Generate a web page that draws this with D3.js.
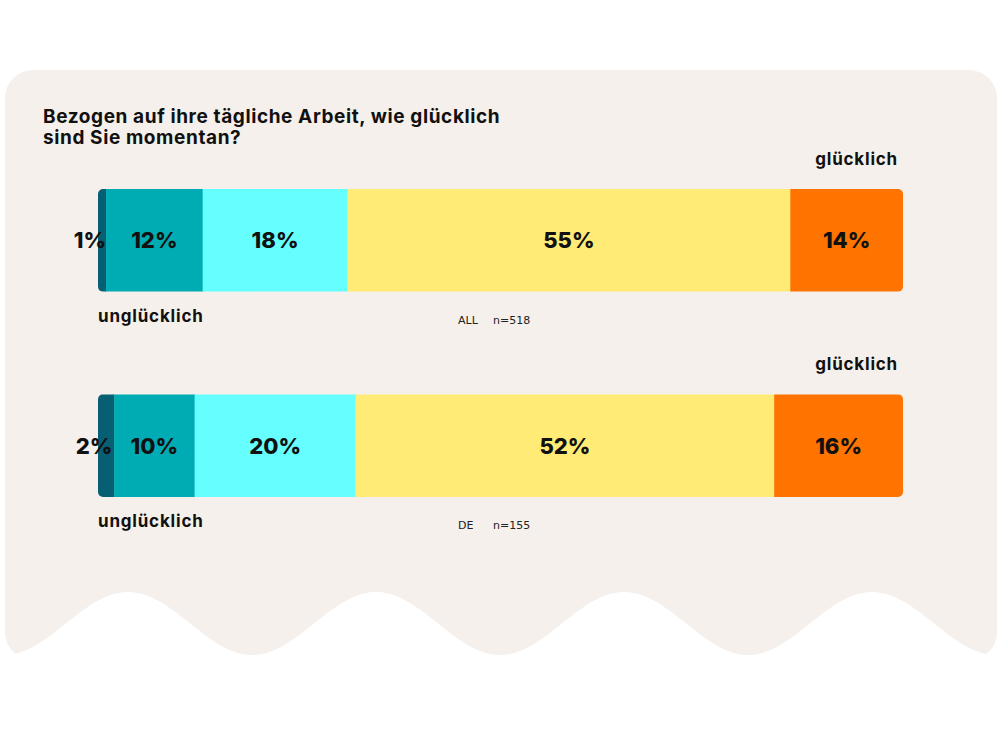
<!DOCTYPE html>
<html>
<head>
<meta charset="utf-8">
<script src="https://cdn.jsdelivr.net/npm/d3@7"></script>
<style>
  body { margin: 0; background: #fff; }
  svg { display: block; }
</style>
</head>
<body>
<script>
// survey data
var groups = ["ALL", "DE"];
var sampleSizes = [518, 155];
var categories = ["sehr unglücklich", "unglücklich", "neutral", "glücklich", "sehr glücklich"];
var valuesAll = [1, 12, 18, 55, 14];
var valuesDE = [2, 10, 20, 52, 16];
var seriesValues = [valuesAll, valuesDE];

var colors = ["#075f73", "#00acb3", "#66ffff", "#ffeb75", "#ff7300"];

var width = 1000, height = 750;

var svg = d3.select("body").append("svg")
    .attr("width", width)
    .attr("height", height);

// panel with wavy bottom
var defs = svg.append("defs");
defs.append("clipPath").attr("id", "panelClip")
  .append("rect")
    .attr("x", 5).attr("y", 70)
    .attr("width", 992).attr("height", 590)
    .attr("rx", 28);

var wave = d3.range(997, 4, -3).map(function(x) {
  return [x, 623.5 + 31.5 * Math.cos(2 * Math.PI * (x - 252) / 248)];
});
var panelPts = [[5, 70], [997, 70]].concat(wave).concat([[5, 655]]);
svg.append("path")
    .attr("clip-path", "url(#panelClip)")
    .attr("d", d3.line()(panelPts) + "Z")
    .attr("fill", "#f5f0eb");

// title
var title = svg.append("text")
    .attr("x", 43)
    .attr("y", 123)
    .attr("font-family", "Inter, 'Noto Sans', sans-serif")
    .attr("font-weight", 700)
    .attr("font-size", "19px")
    .attr("letter-spacing", "0.6px")
    .attr("fill", "#111");
title.append("tspan").attr("x", 43).text("Bezogen auf ihre tägliche Arbeit, wie glücklich");
title.append("tspan").attr("x", 43).attr("dy", 21).text("sind Sie momentan?");

var x = d3.scaleLinear().domain([0, 100]).range([98, 903]);
var y = d3.scaleBand().domain(groups).range([189, 497]).paddingInner(0.5);

groups.forEach(function(g, gi) {
  var vals = seriesValues[gi];
  var stack = [];
  var acc = 0;
  vals.forEach(function(v, i) {
    stack.push({cat: categories[i], v: v, x0: acc, x1: acc + v, i: i});
    acc += v;
  });

  var top = y(g), bh = y.bandwidth();
  var grp = svg.append("g");

  defs.append("clipPath").attr("id", "barClip" + gi)
    .append("rect")
      .attr("x", x(0)).attr("y", top)
      .attr("width", x(100) - x(0)).attr("height", bh)
      .attr("rx", 5);

  grp.append("g").attr("clip-path", "url(#barClip" + gi + ")")
    .selectAll("rect")
    .data(stack)
    .enter().append("rect")
      .attr("x", function(d) { return x(d.x0); })
      .attr("y", top)
      .attr("width", function(d) { return x(d.x1) - x(d.x0) + 0.5; })
      .attr("height", bh)
      .attr("fill", function(d) { return colors[d.i]; });

  grp.selectAll("text.pct")
    .data(stack)
    .enter().append("text")
      .attr("class", "pct")
      .attr("x", function(d) {
        var c = (x(d.x0) + x(d.x1)) / 2;
        return d.v < 5 ? c - 12 : c;
      })
      .attr("y", top + bh / 2)
      .attr("dy", "0.36em")
      .attr("text-anchor", "middle")
      .attr("font-family", "Inter, 'Noto Sans', sans-serif")
      .attr("font-weight", 800)
      .attr("font-size", "22px")
      .attr("fill", "#111")
      .text(function(d) { return d.v + "%"; });

  grp.append("text")
      .attr("x", 898)
      .attr("y", top - 24)
      .attr("text-anchor", "end")
      .attr("font-family", "Inter, 'Noto Sans', sans-serif")
      .attr("font-weight", 700)
      .attr("font-size", "17px")
      .attr("letter-spacing", "0.8px")
      .attr("fill", "#111")
      .text("glücklich");

  grp.append("text")
      .attr("x", 98)
      .attr("y", top + bh + 30)
      .attr("font-family", "Inter, 'Noto Sans', sans-serif")
      .attr("font-weight", 700)
      .attr("font-size", "17px")
      .attr("letter-spacing", "0.8px")
      .attr("fill", "#111")
      .text("unglücklich");

  var n = grp.append("text")
      .attr("x", 458)
      .attr("y", top + bh + 32)
      .attr("font-family", "'DejaVu Sans', sans-serif")
      .attr("font-size", "11px")
      .attr("fill", "#222");
  n.append("tspan").text(g);
  n.append("tspan").attr("x", 493).text("n=" + sampleSizes[gi]);
});
</script>
</body>
</html>
